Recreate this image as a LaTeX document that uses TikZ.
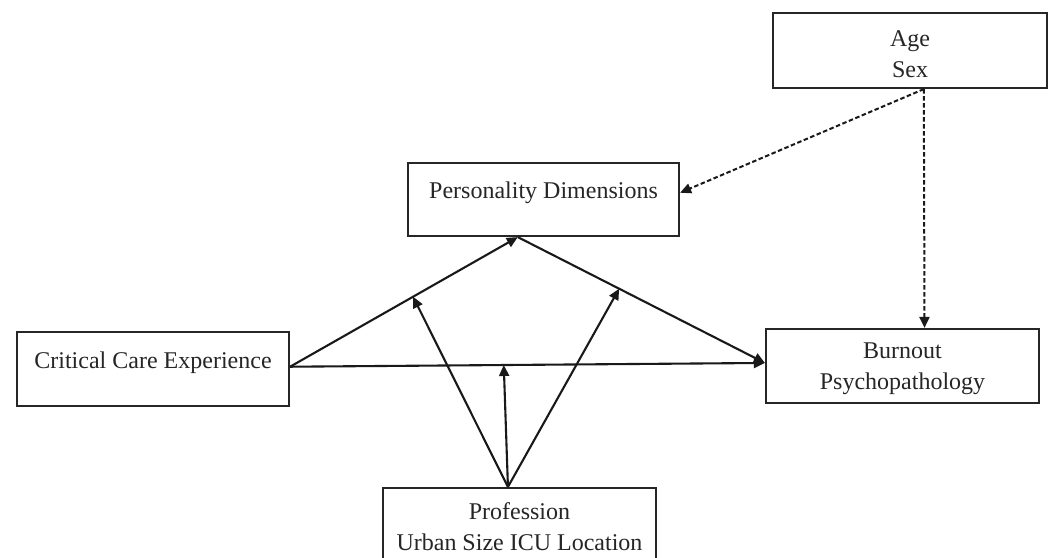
\documentclass[tikz,border=0pt]{standalone}
\usepackage{fontspec}
\setmainfont{Liberation Serif}
\usetikzlibrary{arrows.meta,calc}
\begin{document}
\begin{tikzpicture}[x=1pt,y=-1pt,
  box/.style={draw=black!85,line width=2.2pt,rectangle,inner sep=0pt},
  lbl/.style={font=\fontsize{24}{31}\selectfont,align=center,text=black!85,inner sep=0pt},
  conn/.style={draw=black!90,line width=2.1pt,-{Triangle[length=11pt,width=10pt]}},
  dconn/.style={draw=black!90,line width=2pt,dash pattern=on 4.5pt off 2.5pt,-{Triangle[length=11pt,width=10pt]}}]
\useasboundingbox[fill=white] (0,0) rectangle (1052,557);

% boxes
\node[box,minimum width=274pt,minimum height=75pt] (age) at (910,50.5) {};
\node[box,minimum width=271pt,minimum height=73pt] (pd) at (543.5,199.5) {};
\node[box,minimum width=272pt,minimum height=74pt] (cce) at (153,369) {};
\node[box,minimum width=273pt,minimum height=74pt] (bp) at (902.5,366) {};
\node[box,minimum width=273pt,minimum height=90pt] (prof) at (519.5,533) {};

% texts
\node[lbl] (aget) at (910,54) {Age\\Sex};
\node[lbl] (pdt) at (543.5,193) {Personality Dimensions};
\node[lbl] (ccet) at (153,363) {Critical Care Experience};
\node[lbl] (bpt) at (902.5,368.5) {Burnout\\Psychopathology};
\node[lbl] (proft) at (519.5,527) {Profession\\Urban Size ICU Location};

% anchor points
\coordinate (cceR) at ($(cce.north east)!0.47!(cce.south east)$);
\coordinate (pdB) at ($(pd.south west)!0.406!(pd.south east)$);
\coordinate (bpL) at ($(bp.north west)!0.46!(bp.south west)$);
\coordinate (profT) at ($(prof.north west)!0.458!(prof.north east)$);
\coordinate (ageB) at ($(age.south west)!0.55!(age.south east)$);
\coordinate (pdR) at ($(pd.north east)!0.41!(pd.south east)$);
\coordinate (bpT) at ($(bp.north west)!0.58!(bp.north east)$);

% main paths
\draw[conn] (cceR) -- coordinate[pos=0.54] (m1) (pdB);
\draw[conn] (pdB) -- coordinate[pos=0.41] (m2) (bpL);
\draw[conn] (cceR) -- coordinate[pos=0.45] (m3) (bpL);

% moderation arrows
\draw[conn] (profT) -- (m1);
\draw[conn] (profT) -- (m2);
\draw[conn] (profT) -- (m3);

% covariates
\draw[dconn] (ageB) -- (pdR);
\draw[dconn] (ageB) -- (bpT);
\end{tikzpicture}
\end{document}
